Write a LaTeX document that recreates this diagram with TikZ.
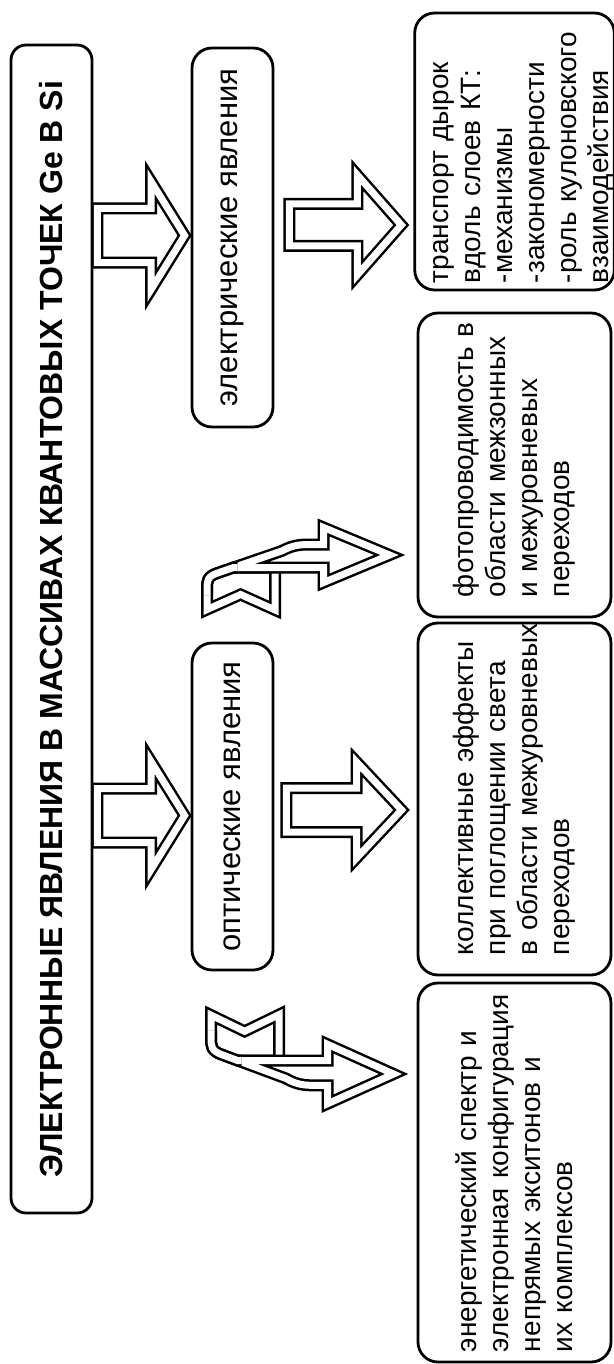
\documentclass[tikz,border=0pt]{standalone}
\usepackage{fontspec}
\setmainfont{Liberation Sans}
\usepackage{tikz}
\usetikzlibrary{calc}
\hyphenpenalty=10000
\exhyphenpenalty=10000

\begin{document}
\begin{tikzpicture}[
        x=1pt, y=-1pt,
        mainbox/.style={draw, line width=2.8pt, rounded corners=15pt, rotate=90,
                        inner sep=0pt, font=\fontsize{32}{38}\selectfont\bfseries},
        groupbox/.style={draw, line width=2.8pt, rounded corners=20pt, rotate=90,
                         minimum height=81pt, inner sep=0pt,
                         font=\fontsize{31}{36}\selectfont},
        topicbox/.style={draw, line width=2.8pt, rounded corners=20pt, rotate=90,
                         minimum height=193pt, inner ysep=0pt, align=left,
                         font=\fontsize{28}{32}\selectfont},
        hollow/.style={draw, line width=2.5pt, double, double distance=7pt}
      ]
        \useasboundingbox (0,0) rectangle (613,1364);
        % Title
        \node[mainbox, minimum width=1168pt, minimum height=81pt] (title) at (51.5,629)
          {ЭЛЕКТРОННЫЕ ЯВЛЕНИЯ В МАССИВАХ КВАНТОВЫХ ТОЧЕК Ge В Si};
        % Groups
        \node[groupbox, minimum width=379pt] (elec) at (232.5,237.5) {электрические явления};
        \node[groupbox, minimum width=327pt] (optic) at (232.5,806.5) {оптические явления};
        % Topics
        \node[topicbox, inner xsep=7pt, text width=263pt] (trans) at (514.5,151.5)
          {\rule{0pt}{34pt}транспорт~дырок\\ вдоль~слоев~КТ:\\ -механизмы\\ -закономерности\\
           -роль~кулоновского\\ взаимодействия};
        \node[topicbox, inner xsep=20pt, text width=264pt] (photo) at (514.5,465)
          {фотопроводимость~в\\ области~межзонных\\ и~межуровневых\\ переходов};
        \node[topicbox, inner xsep=20pt, text width=312pt] (coll) at (514.5,799)
          {коллективные~эффекты\\ при~поглощении~света\\ в~области~межуровневых\\ переходов};
        \node[topicbox, inner xsep=10pt, text width=359pt] (energy) at (514.5,1172.5)
          {энергетический~спектр~и\\ электронная~конфигурация\\ непрямых~экситонов~и\\ их~комплексов};
        % Straight arrows
        \foreach \src/\dst/\yc/\gs/\gt/\hl/\bh/\hh in
          {title/elec/235.5/4/6/33.5/27/54, title/optic/815.5/4/6/33.5/27/54,
           elec/trans/225/15/12/44/21/50, optic/coll/810/12/15/45/22/48}{
          \coordinate (s) at ($(\src.south |- 0,\yc)+(\gs,0)$);
          \coordinate (t) at ($(\dst.north |- 0,\yc)+(-\gt,0)$);
          \draw[hollow] ($(s)+(0,-\bh)$) -- ($(t)+(-\hl,-\bh)$) -- ($(t)+(-\hl,-\hh)$)
            -- (t) -- ($(t)+(-\hl,\hh)$) -- ($(t)+(-\hl,\bh)$) -- ($(s)+(0,\bh)$) -- cycle;
        }
        % Bent arrows
        \foreach \dst/\yc/\gt/\ys in {photo/555/13/1, energy/1074/9/-1.08}{
          \begin{scope}[shift={($(\dst.north |- 0,\yc)+(-\gt,0)$)}, yscale=\ys]
            \draw[hollow] (-128.5,12.5) -- (-170,12.5) -- (-186,18)
              .. controls (-196.5,21.5) and (-196.5,26) .. (-196.5,33)
              -- (-196.5,54.5) -- (-163,39.5) -- (-128.5,55) -- cycle;
            \draw[hollow, fill=white, miter limit=4] (-14,0) -- (-80,-27.5) -- (-80,-10.5)
              -- (-95,-10.5) .. controls (-108,-10.5) and (-114,-8) .. (-122,-4)
              -- (-170,12.5) -- (-80,12.5) -- (-80,27.5) -- cycle;
            \draw[hollow] (-166,12.5) -- (-170,12.5) -- (-186,18)
              .. controls (-196.5,21.5) and (-196.5,26) .. (-196.5,33) -- (-196.5,40);
          \end{scope}
        }
      \end{tikzpicture}
\end{document}
